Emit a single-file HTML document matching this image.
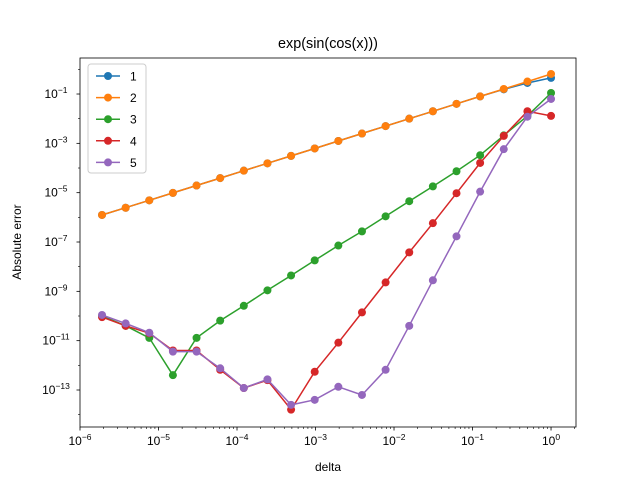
<!DOCTYPE html>
<html><head><meta charset="utf-8"><style>body{margin:0;background:#fff}svg{display:block;font-family:"Liberation Sans","DejaVu Sans",sans-serif}</style></head>
<body>
<svg id="chart" width="640" height="480" xmlns="http://www.w3.org/2000/svg"></svg>
<script>
const deltas = [1,0.5,0.25,0.125,0.0625,0.03125,0.015625,0.0078125,0.00390625,0.001953125,0.0009765625,0.00048828125,0.000244140625,0.0001220703125,6.103515625e-5,3.0517578125e-5,1.52587890625e-5,7.62939453125e-6,3.814697265625e-6,1.9073486328125e-6];
const seriesNames = ["1","2","3","4","5"];
const s1 = [0.45,0.28,0.155,0.08,0.04,0.02,0.01,5e-3,2.5e-3,1.25e-3,6.2e-4,3.1e-4,1.55e-4,7.8e-5,3.9e-5,1.95e-5,9.8e-6,4.9e-6,2.45e-6,1.25e-6];
const s2 = [0.65,0.32,0.16,0.08,0.04,0.02,0.01,5e-3,2.5e-3,1.25e-3,6.2e-4,3.1e-4,1.55e-4,7.8e-5,3.9e-5,1.95e-5,9.8e-6,4.9e-6,2.45e-6,1.25e-6];
const s3 = [0.11,1.3e-2,2.1e-3,3.3e-4,7.4e-5,1.8e-5,4.5e-6,1.1e-6,2.7e-7,7.2e-8,1.8e-8,4.4e-9,1.1e-9,2.6e-10,6.5e-11,1.3e-11,4e-13,1.3e-11,4e-11,1e-10];
const s4 = [1.3e-2,2e-2,2e-3,1.6e-4,9.5e-6,5.8e-7,3.8e-8,2.3e-9,1.4e-10,8.3e-12,5.5e-13,1.6e-14,2.5e-13,1.2e-13,6.6e-13,4e-12,4e-12,2e-11,4e-11,9e-11];
const s5 = [6.3e-2,1.2e-2,5.8e-4,1.1e-5,1.7e-7,2.8e-9,4e-11,6.6e-13,6.3e-14,1.35e-13,4e-14,2.5e-14,2.7e-13,1.2e-13,7.6e-13,3.6e-12,3.6e-12,2.1e-11,5e-11,1.1e-10];
const xTickExps = [-6,-5,-4,-3,-2,-1,0];
const yTickExps = [-13,-11,-9,-7,-5,-3,-1];

const L=80,R=576,T=58,B=427;
const xmin=-6.0,xmax=0.318,ymin=-14.5,ymax=0.46;
const xs=v=>L+(Math.log10(v)-xmin)/(xmax-xmin)*(R-L);
const ys=v=>B-(Math.log10(v)-ymin)/(ymax-ymin)*(B-T);
const svg=document.getElementById('chart');
const NS='http://www.w3.org/2000/svg';
function mk(tag,attrs,parent){const e=document.createElementNS(NS,tag);for(const k in attrs)e.setAttribute(k,attrs[k]);(parent||svg).appendChild(e);return e;}
const colors=["#1f77b4","#ff7f0e","#2ca02c","#d62728","#9467bd"];
const all=[s1,s2,s3,s4,s5];

// ticks
for(let e=-6;e<=0;e++){for(let m=2;m<=9;m++){const v=m*Math.pow(10,e);const x=xs(v);if(x>R)continue;const t=mk('line',{x1:x,x2:x,y1:B,y2:B+2,stroke:'#000','stroke-width':0.6});}}
xTickExps.forEach(e=>{const x=xs(Math.pow(10,e));const t=mk('line',{x1:x,x2:x,y1:B,y2:B+3.5,stroke:'#000','stroke-width':0.8});
const tx=mk('text',{x:x,y:B+18,'font-size':12,'text-anchor':'middle'});
tx.appendChild(document.createTextNode('10'));const sp=mk('tspan',{dy:-5,'font-size':8.5},tx);sp.textContent='\u2212'.repeat(e<0?1:0)+Math.abs(e);});
for(let e=-14;e<=0;e+=2){const y=ys(Math.pow(10,e));const t=mk('line',{x1:L,x2:L-2,y1:y,y2:y,stroke:'#000','stroke-width':0.6});}
yTickExps.forEach(e=>{const y=ys(Math.pow(10,e));const t=mk('line',{x1:L,x2:L-3.5,y1:y,y2:y,stroke:'#000','stroke-width':0.8});
const tx=mk('text',{x:L-24,y:y+4,'font-size':12,'text-anchor':'middle'});
tx.appendChild(document.createTextNode('10'));const sp=mk('tspan',{dy:-5,'font-size':8.5},tx);sp.textContent='\u2212'+Math.abs(e);});

// series
all.forEach((s,i)=>{const g=mk('g',{});
const pts=s.map((v,j)=>xs(deltas[j]).toFixed(1)+','+ys(v).toFixed(1)).join(' ');
const pl=mk('polyline',{points:pts,fill:'none',stroke:colors[i],'stroke-width':1.5},g);
s.forEach((v,j)=>{const c=mk('circle',{cx:xs(deltas[j]),cy:ys(v),r:4,fill:colors[i]},g);});});

const frame=mk('rect',{x:L,y:T,width:R-L,height:B-T,fill:'none',stroke:'#000','stroke-width':0.8});


const title=mk('text',{x:328,y:48,'font-size':14.4,'text-anchor':'middle'});title.textContent='exp(sin(cos(x)))';

const xl=mk('text',{x:328,y:471,'font-size':12,'text-anchor':'middle'});xl.textContent='delta';

const yl=mk('text',{x:21,y:242,'font-size':12,'text-anchor':'middle',transform:'rotate(-90 21 242)'});yl.textContent='Absolute error';


// legend
const lg=mk('g',{});
mk('rect',{x:88,y:64,width:58,height:109,rx:3,fill:'#fff','fill-opacity':0.8,stroke:'#ccc'},lg);
seriesNames.forEach((n,i)=>{const y=76+i*21.6;const e=mk('g',{},lg);
mk('line',{x1:96,x2:120,y1:y,y2:y,stroke:colors[i],'stroke-width':1.5},e);mk('circle',{cx:108,cy:y,r:4,fill:colors[i]},e);
const t=mk('text',{x:130,y:y+4.5,'font-size':12},e);t.textContent=n;});
</script>
</body></html>
